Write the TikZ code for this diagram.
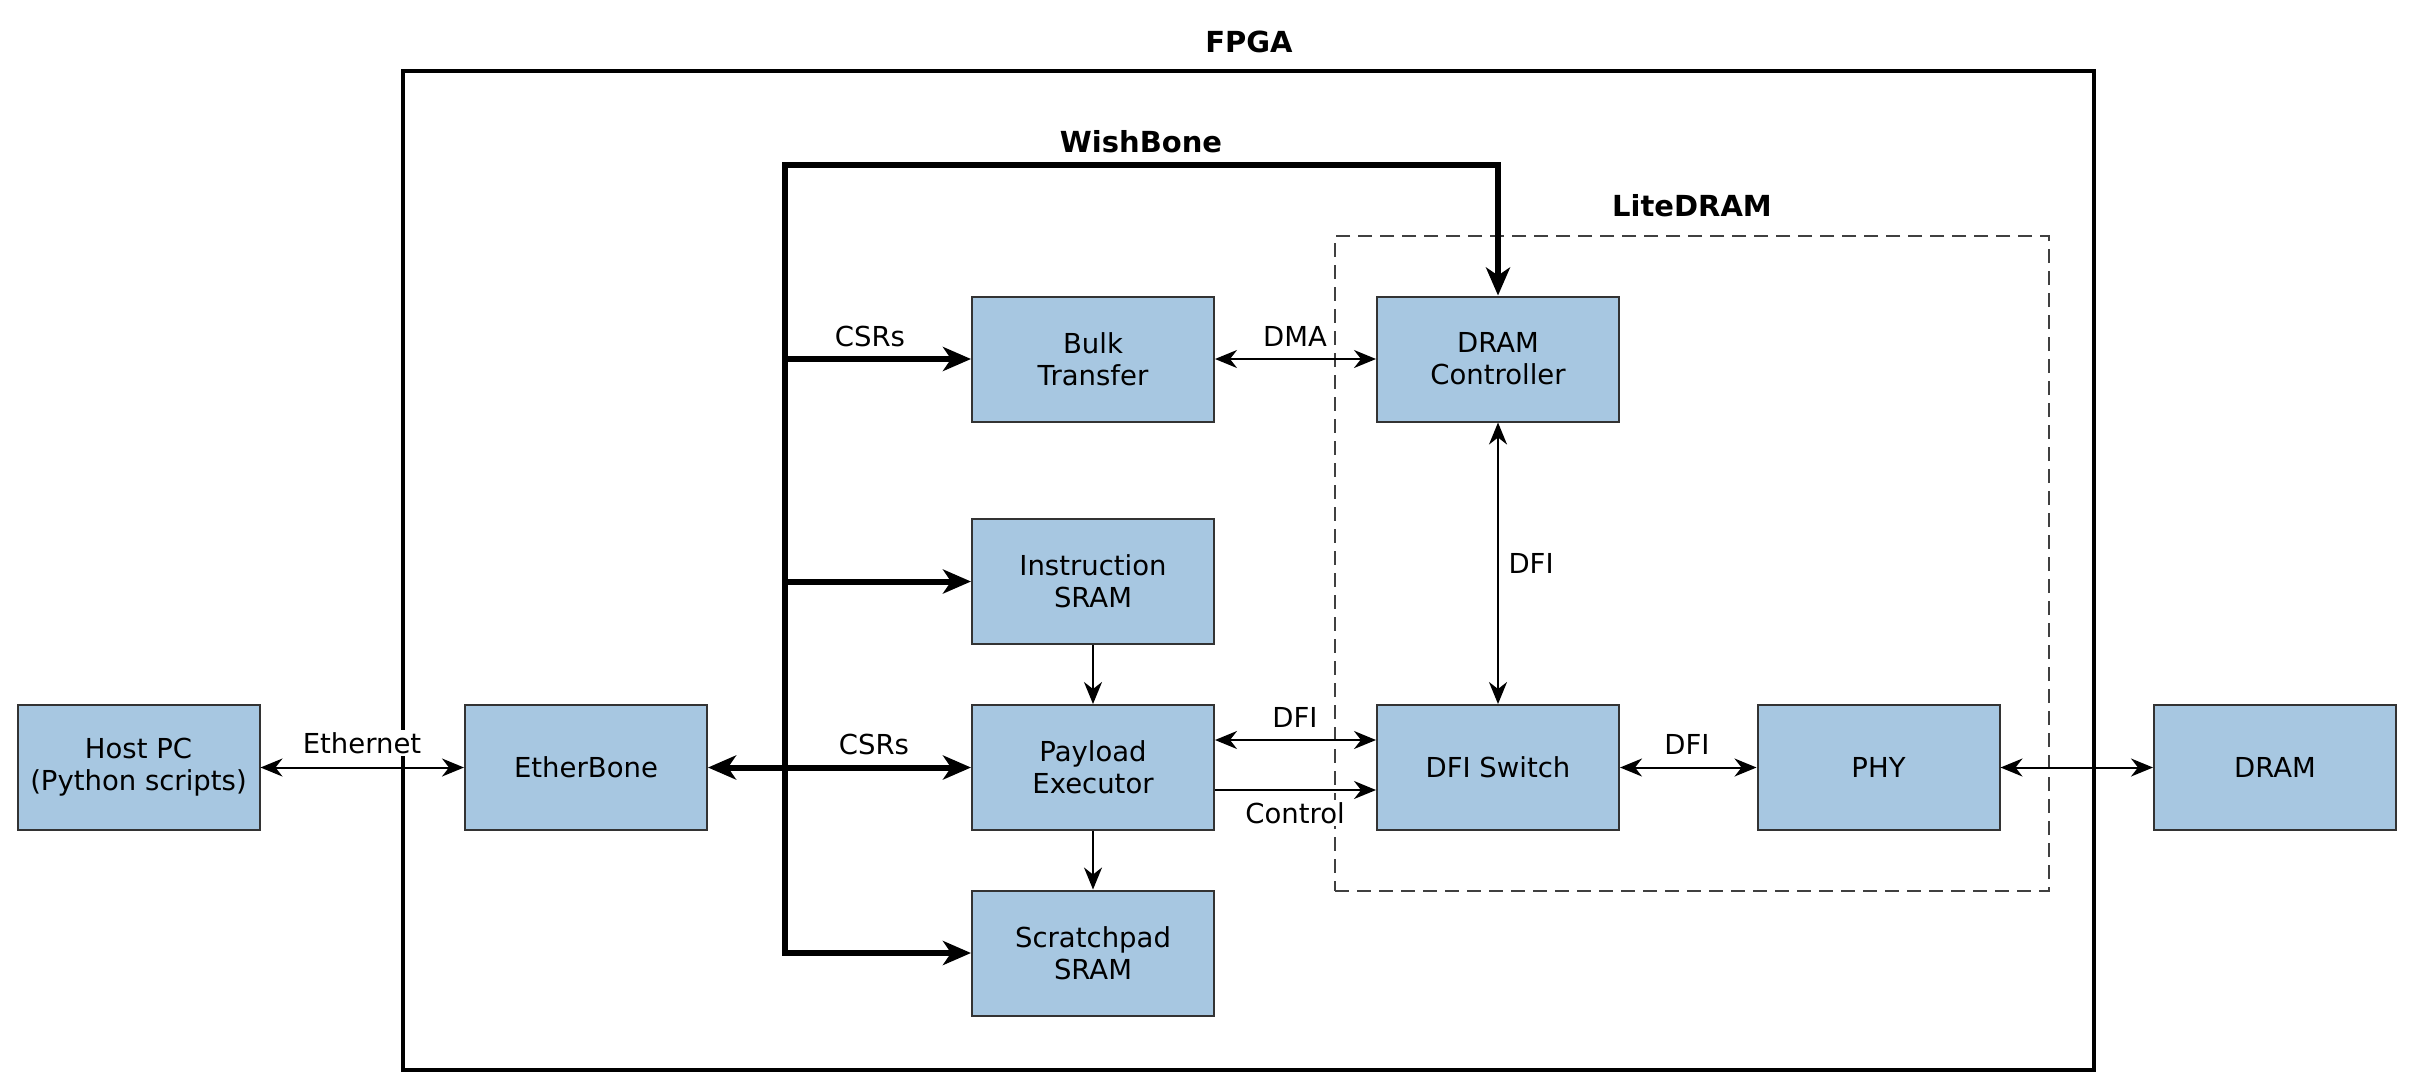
\documentclass[tikz,border=0pt]{standalone}
\usepackage{fontspec}
\setmainfont{DejaVu Sans}
\usetikzlibrary{arrows.meta}
\definecolor{boxfill}{HTML}{A7C7E1}
\begin{document}
\begin{tikzpicture}[x=1pt,y=-1pt,
  font=\fontsize{27.5}{32}\selectfont,
  blk/.style={draw=black!80, line width=2pt, fill=boxfill, minimum width=242pt, minimum height=125pt, align=center, inner sep=0pt},
  thinline/.style={line width=2pt, {Stealth[length=22pt,width=18pt,inset=7pt]}-{Stealth[length=22pt,width=18pt,inset=7pt]}},
  onearrow/.style={line width=2pt, -{Stealth[length=22pt,width=18pt,inset=7pt]}},
  bus/.style={line width=6pt, line join=miter, -{Stealth[length=28pt,width=24pt,inset=8pt]}},
  busboth/.style={line width=6pt, line join=miter, {Stealth[length=28pt,width=24pt,inset=8pt]}-{Stealth[length=28pt,width=24pt,inset=8pt]}},
  lbl/.style={fill=white, inner sep=2pt},
  ttl/.style={font=\fontsize{29}{34}\selectfont\bfseries}
]
\useasboundingbox (0,0) rectangle (2414,1088);
% frames
\node[draw, line width=3.5pt, minimum width=1691pt, minimum height=999pt, inner sep=0pt] (fpga) at (1248.5,570.5) {};
\node[ttl] (fpgat) at (1249,42) {FPGA};
\node[draw=black!75, line width=2pt, dash pattern=on 14pt off 8pt, minimum width=714pt, minimum height=655pt, inner sep=0pt] (lite) at (1692,563.5) {};
\node[ttl] (litet) at (1692,206) {LiteDRAM};
% blocks
\node[blk] (host) at (138.5,767.5) {Host PC\\(Python scripts)};
\node[blk] (eb) at (586,767.5) {EtherBone};
\node[blk] (bulk) at (1093,359) {Bulk\\Transfer};
\node[blk] (instr) at (1093,581.5) {Instruction\\SRAM};
\node[blk] (pay) at (1093,767.5) {Payload\\Executor};
\node[blk] (scratch) at (1093,953) {Scratchpad\\SRAM};
\node[blk] (ctrl) at (1498,359) {DRAM\\Controller};
\node[blk] (sw) at (1498,767.5) {DFI Switch};
\node[blk] (phy) at (1878.5,767.5) {PHY};
\node[blk] (dram) at (2275,767.5) {DRAM};
% wishbone bus
\coordinate (busTop) at (785,165);
\draw[busboth] (scratch.west) -| (busTop) -| (ctrl.north);
\draw[bus] (bulk.west -| busTop) -- (bulk.west);
\draw[bus] (instr.west -| busTop) -- (instr.west);
\draw[bus] (pay.west -| busTop) -- (pay.west);
\draw[bus] (eb.east -| busTop) -- (eb.east);
\node[ttl] (wbt) at (1141,142) {WishBone};
% thin connectors
\draw[thinline] (host.east) -- (eb.west);
\draw[thinline] (bulk.east) -- (ctrl.west);
\draw[thinline] (ctrl.south) -- (sw.north);
\draw[thinline] ([yshift=27.5pt]pay.east) -- ([yshift=27.5pt]sw.west);
\draw[onearrow] ([yshift=-22.5pt]pay.east) -- ([yshift=-22.5pt]sw.west);
\draw[onearrow] (instr.south) -- (pay.north);
\draw[onearrow] (pay.south) -- (scratch.north);
\draw[thinline] (sw.east) -- (phy.west);
\draw[thinline] (phy.east) -- (dram.west);
% labels
\node[lbl] (eth) at (362,743) {Ethernet};
\node[lbl] (csr1) at (870,336) {CSRs};
\node[lbl] (csr2) at (874,744) {CSRs};
\node (dma) at (1295,336) {DMA};
\node (dfi1) at (1295,717) {DFI};
\node[lbl] (ctl) at (1295,813) {Control};
\node (dfi2) at (1687,744) {DFI};
\node[anchor=west] (dfi3) at (1505,563) {DFI};
\end{tikzpicture}
\end{document}
